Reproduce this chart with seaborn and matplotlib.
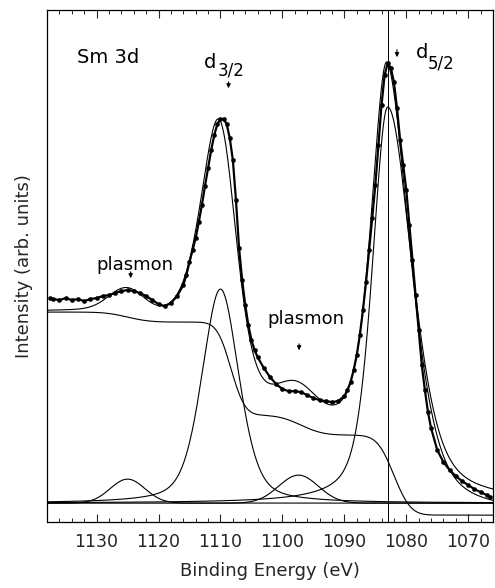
import numpy as np
import pandas as pd
import matplotlib
matplotlib.use("Agg")
import matplotlib.pyplot as plt
import seaborn as sns
from math import erf

energy = [1137.5, 1137, 1136, 1135, 1134, 1133, 1132, 1131, 1130, 1129, 1128, 1127,
          1126, 1125, 1124, 1123, 1122, 1121, 1120, 1119, 1118, 1117, 1116, 1115.5,
          1115, 1114.5, 1114, 1113.5, 1113, 1112.5, 1112, 1111.5, 1111, 1110.5, 1110,
          1109.5, 1109, 1108.5, 1108, 1107.5, 1107, 1106.5, 1106, 1105.5, 1105, 1104.5,
          1104, 1103, 1102, 1101, 1100, 1099, 1098, 1097, 1096, 1095, 1094, 1093, 1092,
          1091, 1090, 1089.5, 1089, 1088.5, 1088, 1087.5, 1087, 1086.5, 1086, 1085.5,
          1085, 1084.5, 1084, 1083.5, 1083, 1082.5, 1082, 1081.5, 1081, 1080.5, 1080,
          1079.5, 1079, 1078.5, 1078, 1077.5, 1077, 1076.5, 1076, 1075, 1074, 1073,
          1072, 1071, 1070, 1069, 1068, 1067, 1066.5]
intensity = [2.05, 2.04, 2.03, 2.05, 2.03, 2.04, 2.02, 2.04, 2.05, 2.07, 2.08, 2.10,
             2.12, 2.13, 2.12, 2.10, 2.07, 2.03, 1.99, 1.97, 2.00, 2.07, 2.18, 2.28,
             2.41, 2.53, 2.65, 2.81, 2.98, 3.17, 3.35, 3.53, 3.68, 3.79, 3.84,
             3.84, 3.79, 3.65, 3.43, 3.03, 2.55, 2.23, 1.98, 1.78, 1.63, 1.53,
             1.46, 1.35, 1.26, 1.19, 1.14, 1.12, 1.12, 1.11, 1.08, 1.05, 1.03, 1.02, 1.01,
             1.02, 1.07, 1.13, 1.21, 1.33, 1.48, 1.68, 1.93, 2.21, 2.53, 2.85,
             3.18, 3.58, 3.98, 4.28, 4.40, 4.35, 4.21, 3.95, 3.63, 3.38, 3.13,
             2.78, 2.43, 2.08, 1.73, 1.38, 1.13, 0.91, 0.75, 0.53, 0.41, 0.33,
             0.27, 0.22, 0.18, 0.14, 0.11, 0.08, 0.06]

# ---- fit components (parameters) ----
peak_names = ["d5/2", "plasmon d5/2", "d3/2", "plasmon d3/2"]
peak_centers = [1083.0, 1097.4, 1110.0, 1125.0]
peak_heights = [3.96, 0.28, 2.14, 0.24]
peak_sigma_high = [2.5, 3.2, 3.0, 2.8]   # high binding-energy side
peak_sigma_low = [4.0, 3.2, 3.0, 2.8]    # low binding-energy side
peak_lorentz = [0.5, 0.0, 0.4, 0.0]

bg_offset = -0.12
step_centers = [1082.0, 1097.0, 1108.3, 1125.0]
step_heights = [0.80, 0.20, 0.93, 0.10]
step_widths = [3.0, 4.0, 2.5, 4.0]

xticks_major = [1130, 1120, 1110, 1100, 1090, 1080, 1070]


def component(e, c, h, s_hi, s_lo, eta):
    s = np.where(e >= c, s_hi, s_lo)
    g = np.exp(-0.5 * ((e - c) / s) ** 2)
    gam = s * np.sqrt(2 * np.log(2))
    lor = 1.0 / (1.0 + ((e - c) / gam) ** 2)
    return h * ((1 - eta) * g + eta * lor)


def background(e):
    b = np.full_like(e, bg_offset)
    for c, a, w in zip(step_centers, step_heights, step_widths):
        b = b + a * 0.5 * (1 + np.array([erf(v) for v in (e - c) / w]))
    return b


grid = np.linspace(1066.0, 1138.0, 1200)
comps = [component(grid, c, h, a, b, t) for c, h, a, b, t in
         zip(peak_centers, peak_heights, peak_sigma_high, peak_sigma_low, peak_lorentz)]
bg = background(grid)
envelope = bg + np.sum(comps, axis=0)

curves = []
for name, comp in zip(peak_names, comps):
    curves.append(pd.DataFrame({"E": grid, "I": comp, "curve": name}))
curves.append(pd.DataFrame({"E": grid, "I": bg, "curve": "background"}))
curves.append(pd.DataFrame({"E": grid, "I": envelope, "curve": "fit"}))
curves = pd.concat(curves, ignore_index=True)
data = pd.DataFrame({"E": energy, "I": intensity})

sns.set_style("ticks")
plt.rcParams["font.family"] = ["DejaVu Sans"]
plt.rcParams["mathtext.fontset"] = "dejavusans"

fig = plt.figure(figsize=(4.95, 5.88), dpi=100)
ax = fig.add_axes([0.095, 0.112, 0.901, 0.871])

sns.lineplot(data=curves, x="E", y="I", units="curve", estimator=None,
             color="black", lw=0.8, ax=ax, sort=False)
sns.lineplot(data=data, x="E", y="I", color="black", lw=1.6, ax=ax, sort=False)
sns.scatterplot(data=data, x="E", y="I", color="black", s=9, edgecolor="black",
                linewidth=0.3, ax=ax, zorder=5)

ax.axvline(peak_centers[0], color="black", lw=0.7)

ax.set_xlim(1138, 1066)
ax.set_ylim(-0.19, 4.93)
ax.set_xticks(xticks_major)
ax.set_xticks(np.arange(1066, 1139, 2), minor=True)
ax.set_yticks([])
ax.tick_params(axis="x", which="major", direction="in", length=6, width=0.8,
               top=True, labelsize=12.5, pad=8)
ax.tick_params(axis="x", which="minor", direction="in", length=3, width=0.7, top=True)
for sp in ax.spines.values():
    sp.set_linewidth(0.9)
    sp.set_color("black")

ax.set_xlabel("Binding Energy (eV)", fontsize=13, labelpad=8)
ax.set_ylabel("Intensity (arb. units)", fontsize=13, labelpad=10)

ax.text(1133.1, 4.40, "Sm 3d", fontsize=14, color="black")
ax.text(1112.7, 4.35, "d", fontsize=14, color="black")
ax.text(1110.5, 4.28, "3/2", fontsize=12, color="black")
ax.text(1078.5, 4.45, "d", fontsize=14, color="black")
ax.text(1076.5, 4.35, "5/2", fontsize=12, color="black")
ax.text(1130.0, 2.33, "plasmon", fontsize=13, color="black")
ax.text(1102.5, 1.79, "plasmon", fontsize=13, color="black")

arrow = dict(arrowstyle="-|>", lw=0.8, color="black", mutation_scale=6)
ax.annotate("", xy=(1108.7, 4.12), xytext=(1108.7, 4.24), arrowprops=arrow)
ax.annotate("", xy=(1081.5, 4.43), xytext=(1081.5, 4.56), arrowprops=arrow)
ax.annotate("", xy=(1124.5, 2.22), xytext=(1124.5, 2.34), arrowprops=arrow)
ax.annotate("", xy=(1097.3, 1.50), xytext=(1097.3, 1.62), arrowprops=arrow)

fig.savefig("out.png", dpi=100)
